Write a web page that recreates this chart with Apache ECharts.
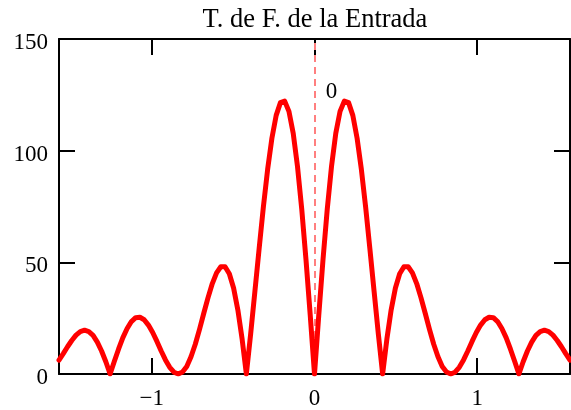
<!DOCTYPE html>
<html>
<head>
<meta charset="utf-8">
<script src="https://cdn.jsdelivr.net/npm/echarts@6/dist/echarts.min.js"></script>
<style>
html,body{margin:0;padding:0;background:#fff;}
#chart{width:571px;height:410px;}
</style>
</head>
<body>
<div id="chart"></div>
<script>
// Title and axes
const TITLE = 'T. de F. de la Entrada';
const X_MIN = -Math.PI / 2;
const X_MAX = Math.PI / 2;
const X_TICKS = [-1, 0, 1];
const Y_MIN = 0;
const Y_MAX = 150;
const Y_STEP = 50;
const MARKER_X = 0;
const MARKER_LABEL = '0';

// Frequency (rad) samples
const freq = [
 -1.5708,-1.5446,-1.5184,-1.4923,-1.4661,-1.4399,-1.4137,-1.3875,-1.3614,-1.3352,
 -1.3090,-1.2828,-1.2566,-1.2305,-1.2043,-1.1781,-1.1519,-1.1257,-1.0996,-1.0734,
 -1.0472,-1.0210,-0.9948,-0.9687,-0.9425,-0.9163,-0.8901,-0.8639,-0.8378,-0.8116,
 -0.7854,-0.7592,-0.7330,-0.7069,-0.6807,-0.6545,-0.6283,-0.6021,-0.5760,-0.5498,
 -0.5236,-0.4974,-0.4712,-0.4451,-0.4189,-0.3927,-0.3665,-0.3403,-0.3142,-0.2880,
 -0.2618,-0.2356,-0.2094,-0.1833,-0.1571,-0.1309,-0.1047,-0.0785,-0.0524,-0.0262,
 0,
 0.0262,0.0524,0.0785,0.1047,0.1309,0.1571,0.1833,0.2094,0.2356,0.2618,
 0.2880,0.3142,0.3403,0.3665,0.3927,0.4189,0.4451,0.4712,0.4974,0.5236,
 0.5498,0.5760,0.6021,0.6283,0.6545,0.6807,0.7069,0.7330,0.7592,0.7854,
 0.8116,0.8378,0.8639,0.8901,0.9163,0.9425,0.9687,0.9948,1.0210,1.0472,
 1.0734,1.0996,1.1257,1.1519,1.1781,1.2043,1.2305,1.2566,1.2828,1.3090,
 1.3352,1.3614,1.3875,1.4137,1.4399,1.4661,1.4923,1.5184,1.5446,1.5708
];

// |X(w)| magnitude
const magnitude = [
 6.2,9.1,12.2,15.0,17.4,19.0,19.6,19.0,17.3,14.3,
 10.3,5.5,0,5.7,11.2,16.3,20.4,23.5,25.2,25.4,
 24.3,21.9,18.6,14.6,10.3,6.3,3.0,0.8,0,0.9,
 3.4,7.7,13.3,20.0,27.2,34.2,40.5,45.3,48.0,48.0,
 44.9,38.5,28.7,15.7,0,17.8,36.9,56.2,74.9,91.7,
 105.6,115.8,121.5,122.2,117.6,107.8,93.0,73.9,51.3,26.3,
 0,
 26.3,51.3,73.9,93.0,107.8,117.6,122.2,121.5,115.8,105.6,
 91.7,74.9,56.2,36.9,17.8,0,15.7,28.7,38.5,44.9,
 48.0,48.0,45.3,40.5,34.2,27.2,20.0,13.3,7.7,3.4,
 0.9,0,0.8,3.0,6.3,10.3,14.6,18.6,21.9,24.3,
 25.4,25.2,23.5,20.4,16.3,11.2,5.7,0,5.5,10.3,
 14.3,17.3,19.0,19.6,19.0,17.4,15.0,12.2,9.1,6.2
];

const FONT = "'Liberation Serif', 'Times New Roman', serif";
const seriesData = freq.map((f, i) => [f, magnitude[i]]);
const fmtX = v => (v < 0 ? '\u2212' + Math.abs(v) : String(v));

const axisLineStyle = { show: true, onZero: false, lineStyle: { color: '#000', width: 2 } };
const tickStyle = { show: true, inside: true, length: 16, lineStyle: { color: '#000', width: 2 } };

const chart = echarts.init(document.getElementById('chart'), null, { renderer: 'canvas' });
chart.setOption({
  animation: false,
  backgroundColor: '#fff',
  title: {
    text: TITLE,
    left: 310,
    textAlign: 'center',
    top: 2,
    textStyle: { fontFamily: FONT, fontSize: 26.5, fontWeight: 'normal', color: '#000' }
  },
  grid: { left: 59, right: 1, top: 39, bottom: 34 },
  xAxis: [
    {
      type: 'value', position: 'bottom', min: X_MIN, max: X_MAX,
      axisLine: axisLineStyle,
      axisTick: Object.assign({}, tickStyle, { customValues: X_TICKS }),
      axisLabel: { customValues: X_TICKS, formatter: fmtX, fontFamily: FONT, fontSize: 23, color: '#000', margin: 13 },
      splitLine: { show: false }
    },
    {
      type: 'value', position: 'top', min: X_MIN, max: X_MAX,
      axisLine: axisLineStyle,
      axisTick: Object.assign({}, tickStyle, { customValues: X_TICKS }),
      axisLabel: { show: false },
      splitLine: { show: false }
    }
  ],
  yAxis: [
    {
      type: 'value', position: 'left', min: Y_MIN, max: Y_MAX, interval: Y_STEP,
      axisLine: axisLineStyle,
      axisTick: tickStyle,
      axisLabel: { fontFamily: FONT, fontSize: 23, color: '#000', margin: 11, verticalAlign: 'top', lineHeight: 8 },
      splitLine: { show: false }
    },
    {
      type: 'value', position: 'right', min: Y_MIN, max: Y_MAX, interval: Y_STEP,
      axisLine: axisLineStyle,
      axisTick: tickStyle,
      axisLabel: { show: false },
      splitLine: { show: false }
    }
  ],
  series: [{
    type: 'line',
    xAxisIndex: 0,
    yAxisIndex: 0,
    data: seriesData,
    showSymbol: false,
    symbol: 'none',
    lineStyle: { color: '#ff0000', width: 5, join: 'round', cap: 'round' },
    z: 3,
    markLine: {
      silent: true,
      symbol: 'none',
      label: { show: false },
      lineStyle: { color: '#ff7f7f', type: [7, 5], width: 2 },
      data: [{ xAxis: MARKER_X }],
      z: 2
    },
    markPoint: {
      silent: true,
      symbol: 'circle',
      symbolSize: 0,
      data: [{ coord: [MARKER_X, Y_MAX] }],
      label: {
        show: true, formatter: MARKER_LABEL, position: 'inside', offset: [17, 53],
        fontFamily: FONT, fontSize: 23, color: '#000'
      }
    }
  }]
});
</script>
</body>
</html>
